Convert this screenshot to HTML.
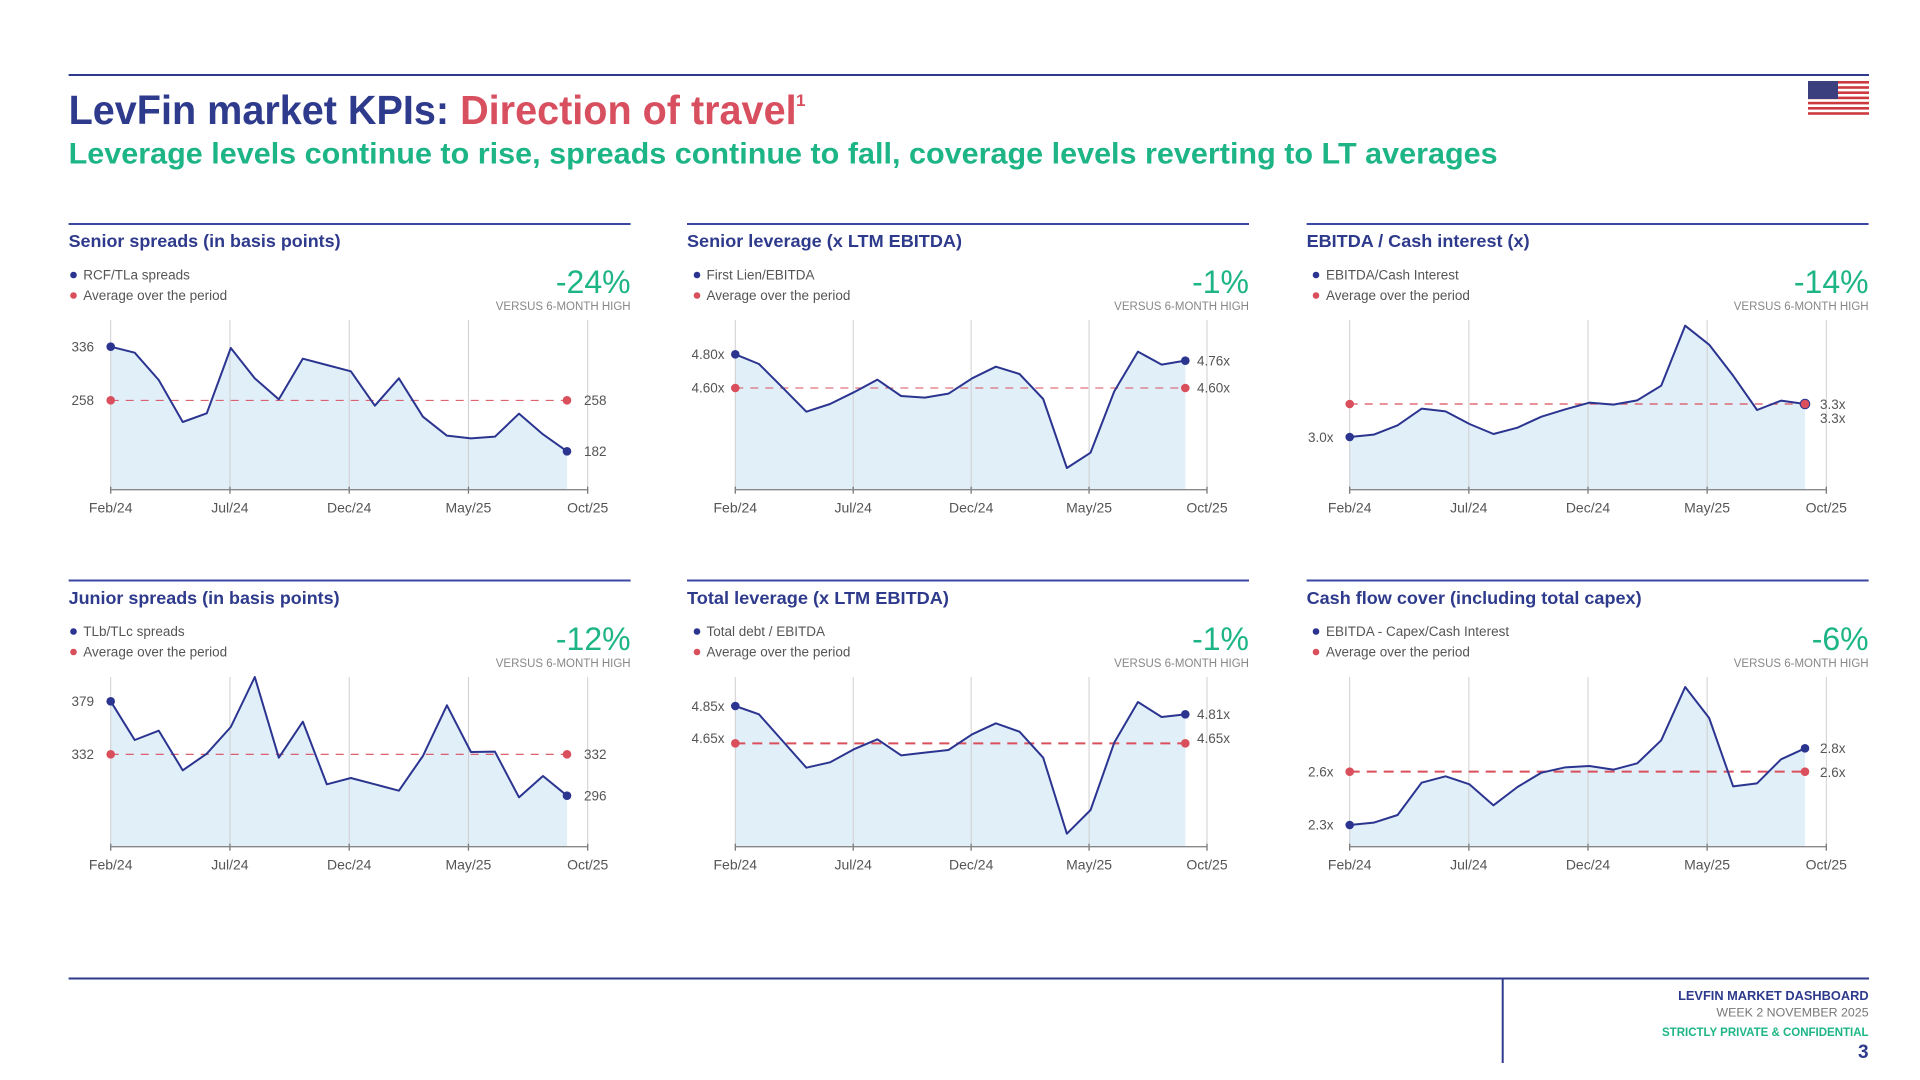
<!DOCTYPE html>
<html><head><meta charset="utf-8"><style>
html,body{margin:0;padding:0;background:#fff;}
svg{display:block;font-family:"Liberation Sans",Arial,sans-serif;}
</style></head><body>
<svg id="s" width="1920" height="1080" viewBox="0 0 1920 1080" xmlns="http://www.w3.org/2000/svg">
<rect width="1920" height="1080" fill="#fff"/>
<line x1="68.6" y1="75" x2="1869" y2="75" stroke="#2e3a8c" stroke-width="2"/>
<g>
<rect x="1808" y="81" width="61" height="34" fill="#fff"/>
<g fill="#cc3a3f">
<rect x="1808" y="81" width="61" height="2.6"/><rect x="1808" y="86.2" width="61" height="2.6"/><rect x="1808" y="91.4" width="61" height="2.6"/><rect x="1808" y="96.6" width="61" height="2.6"/><rect x="1808" y="101.8" width="61" height="2.6"/><rect x="1808" y="107" width="61" height="2.6"/><rect x="1808" y="112.2" width="61" height="2.6"/>
</g>
<rect x="1808" y="81" width="30" height="18" fill="#3c3f7e"/>
</g>
<text x="68.6" y="124" font-size="41" font-weight="bold" textLength="728" lengthAdjust="spacingAndGlyphs"><tspan fill="#2e3a8c">LevFin market KPIs: </tspan><tspan fill="#d84f5f">Direction of travel</tspan></text>
<text x="796" y="106" font-size="17" font-weight="bold" fill="#d84f5f">1</text>
<text x="68.6" y="163.3" font-size="30" font-weight="bold" fill="#1db586" textLength="1429" lengthAdjust="spacingAndGlyphs">Leverage levels continue to rise, spreads continue to fall, coverage levels reverting to LT averages</text>

<g id="charts"></g>

<g font-size="17.5" font-weight="bold" fill="#2e3a8c">
<text x="68.6" y="247" textLength="272" lengthAdjust="spacingAndGlyphs">Senior spreads (in basis points)</text>
<text x="687" y="247" textLength="275" lengthAdjust="spacingAndGlyphs">Senior leverage (x LTM EBITDA)</text>
<text x="1306.6" y="247" textLength="223" lengthAdjust="spacingAndGlyphs">EBITDA / Cash interest (x)</text>
<text x="68.6" y="604" textLength="271" lengthAdjust="spacingAndGlyphs">Junior spreads (in basis points)</text>
<text x="687" y="604" textLength="262" lengthAdjust="spacingAndGlyphs">Total leverage (x LTM EBITDA)</text>
<text x="1306.6" y="604" textLength="335" lengthAdjust="spacingAndGlyphs">Cash flow cover (including total capex)</text>
</g>
<g stroke="#3b47a0" stroke-width="2">
<line x1="68.6" y1="224" x2="630.6" y2="224"/><line x1="687" y1="224" x2="1249" y2="224"/><line x1="1306.6" y1="224" x2="1868.6" y2="224"/>
<line x1="68.6" y1="580.5" x2="630.6" y2="580.5"/><line x1="687" y1="580.5" x2="1249" y2="580.5"/><line x1="1306.6" y1="580.5" x2="1868.6" y2="580.5"/>
</g>
<g font-size="13.5" fill="#555">
<text x="83.3" y="279.5">RCF/TLa spreads</text><text x="83.3" y="300">Average over the period</text>
<text x="706.5" y="279.5">First Lien/EBITDA</text><text x="706.5" y="300">Average over the period</text>
<text x="1326" y="279.5">EBITDA/Cash Interest</text><text x="1326" y="300">Average over the period</text>
<text x="83.3" y="636">TLb/TLc spreads</text><text x="83.3" y="656.5">Average over the period</text>
<text x="706.5" y="636">Total debt / EBITDA</text><text x="706.5" y="656.5">Average over the period</text>
<text x="1326" y="636">EBITDA - Capex/Cash Interest</text><text x="1326" y="656.5">Average over the period</text>
</g>
<g>
<circle cx="73.5" cy="275" r="3.3" fill="#2b3590"/><circle cx="73.5" cy="295.5" r="3.3" fill="#d94f5c"/>
<circle cx="697" cy="275" r="3.3" fill="#2b3590"/><circle cx="697" cy="295.5" r="3.3" fill="#d94f5c"/>
<circle cx="1316" cy="275" r="3.3" fill="#2b3590"/><circle cx="1316" cy="295.5" r="3.3" fill="#d94f5c"/>
<circle cx="73.5" cy="631.5" r="3.3" fill="#2b3590"/><circle cx="73.5" cy="652" r="3.3" fill="#d94f5c"/>
<circle cx="697" cy="631.5" r="3.3" fill="#2b3590"/><circle cx="697" cy="652" r="3.3" fill="#d94f5c"/>
<circle cx="1316" cy="631.5" r="3.3" fill="#2b3590"/><circle cx="1316" cy="652" r="3.3" fill="#d94f5c"/>
</g>
<g font-size="32" fill="#1db586" text-anchor="end">
<text x="630.6" y="293">-24%</text><text x="1249" y="293">-1%</text><text x="1868.6" y="293">-14%</text>
<text x="630.6" y="650">-12%</text><text x="1249" y="650">-1%</text><text x="1868.6" y="650">-6%</text>
</g>
<g font-size="11.5" fill="#888" text-anchor="end">
<text x="630.6" y="310">VERSUS 6-MONTH HIGH</text><text x="1249" y="310">VERSUS 6-MONTH HIGH</text><text x="1868.6" y="310">VERSUS 6-MONTH HIGH</text>
<text x="630.6" y="667">VERSUS 6-MONTH HIGH</text><text x="1249" y="667">VERSUS 6-MONTH HIGH</text><text x="1868.6" y="667">VERSUS 6-MONTH HIGH</text>
</g>
<g font-size="14" fill="#555" text-anchor="middle">
<text x="110.7" y="512.3">Feb/24</text><text x="229.9" y="512.3">Jul/24</text><text x="349.2" y="512.3">Dec/24</text><text x="468.4" y="512.3">May/25</text><text x="587.7" y="512.3">Oct/25</text>
<text x="735.3" y="512.3">Feb/24</text><text x="853.2" y="512.3">Jul/24</text><text x="971.2" y="512.3">Dec/24</text><text x="1089.1" y="512.3">May/25</text><text x="1207" y="512.3">Oct/25</text>
<text x="1349.7" y="512.3">Feb/24</text><text x="1468.8" y="512.3">Jul/24</text><text x="1588" y="512.3">Dec/24</text><text x="1707.1" y="512.3">May/25</text><text x="1826.3" y="512.3">Oct/25</text>
<text x="110.7" y="869.3">Feb/24</text><text x="229.9" y="869.3">Jul/24</text><text x="349.2" y="869.3">Dec/24</text><text x="468.4" y="869.3">May/25</text><text x="587.7" y="869.3">Oct/25</text>
<text x="735.3" y="869.3">Feb/24</text><text x="853.2" y="869.3">Jul/24</text><text x="971.2" y="869.3">Dec/24</text><text x="1089.1" y="869.3">May/25</text><text x="1207" y="869.3">Oct/25</text>
<text x="1349.7" y="869.3">Feb/24</text><text x="1468.8" y="869.3">Jul/24</text><text x="1588" y="869.3">Dec/24</text><text x="1707.1" y="869.3">May/25</text><text x="1826.3" y="869.3">Oct/25</text>
</g>
<g font-size="13.5" fill="#555" text-anchor="end">
<text x="94" y="351.5">336</text><text x="94" y="405">258</text>
<text x="724.5" y="359">4.80x</text><text x="724.5" y="392.5">4.60x</text>
<text x="1333.5" y="442">3.0x</text>
<text x="94" y="706">379</text><text x="94" y="759">332</text>
<text x="724.5" y="711">4.85x</text><text x="724.5" y="743">4.65x</text>
<text x="1333.5" y="776.5">2.6x</text><text x="1333.5" y="829.5">2.3x</text>
</g>
<g font-size="13.5" fill="#555">
<text x="584" y="405">258</text><text x="584" y="456">182</text>
<text x="1197" y="365.5">4.76x</text><text x="1197" y="392.5">4.60x</text>
<text x="1820" y="409">3.3x</text><text x="1820" y="423">3.3x</text>
<text x="584" y="759">332</text><text x="584" y="800.5">296</text>
<text x="1197" y="719">4.81x</text><text x="1197" y="743">4.65x</text>
<text x="1820" y="753">2.8x</text><text x="1820" y="777">2.6x</text>
</g>
<line x1="68.6" y1="978.5" x2="1869" y2="978.5" stroke="#2e3a8c" stroke-width="2"/>
<line x1="1502.7" y1="978.5" x2="1502.7" y2="1063" stroke="#2e3a8c" stroke-width="2"/>
<g text-anchor="end">
<text x="1868.6" y="1000" font-size="12.8" font-weight="bold" fill="#2e3a8c">LEVFIN MARKET DASHBOARD</text>
<text x="1868.6" y="1016.7" font-size="12.4" fill="#777">WEEK 2 NOVEMBER 2025</text>
<text x="1868.6" y="1036" font-size="11.5" font-weight="bold" fill="#1db586">STRICTLY PRIVATE &amp; CONFIDENTIAL</text>
<text x="1868.6" y="1058" font-size="19" font-weight="bold" fill="#2e3a8c">3</text>
</g>
</svg>
<script>
var C=[
{x0:110.7,st:23.85,xl:567,yo:210,base:489.7,top:320,avg:571,dw:1,z:[410,428,510,636,610,414,505,568,446,465,484,587,505,620,677,685,680,611,673,724],last:'b'},
{x0:735.3,st:23.585,xl:1185.3,yo:314,base:489.7,top:320,avg:222,dw:1,z:[121,150,221,293,270,235,197,246,251,239,193,158,180,255,462,416,232,113,152,140],last:'b'},
{x0:1349.7,st:23.83,xl:1805,yo:314,base:489.7,top:320,avg:270,dw:1.2,z:[369,362,334,284,292,330,360,341,308,286,266,272,259,215,35,92,185,288,260,270],last:'r'},
{x0:110.7,st:23.85,xl:567,yo:671,base:846.7,top:677,avg:250,dw:1.2,z:[91,207,179,298,248,168,18,260,152,340,321,340,359,255,103,243,242,379,315,374],last:'b'},
{x0:735.3,st:23.585,xl:1185.3,yo:671,base:846.7,top:677,avg:217,dw:2,z:[105,130,210,290,274,235,205,253,245,237,190,157,182,260,488,417,215,93,138,130],last:'b'},
{x0:1349.7,st:23.83,xl:1805,yo:671,base:846.7,top:677,avg:302,dw:2,z:[462,455,432,335,316,340,403,348,305,289,285,296,277,208,48,141,346,337,265,232],last:'b'}
];
var g=document.getElementById('charts'),h='';
C.forEach(function(c){
 var ds=(c.xl-c.x0)/19;
 var pts=c.z.map(function(z,i){return [c.x0+i*ds,c.yo+z/3];});
 var n=pts.length-1, ay=c.yo+c.avg/3;
 h+='<path d="M'+pts[0][0]+','+c.base+' L'+pts.map(function(p){return p[0]+','+p[1]}).join(' L')+' L'+pts[n][0]+','+c.base+' Z" fill="#e1eff9"/>';
 for(var k=0;k<=4;k++){var x=c.x0+k*5*c.st;h+='<line x1="'+x+'" y1="'+c.top+'" x2="'+x+'" y2="'+c.base+'" stroke="#cfcfcf" stroke-width="1"/>';
  h+='<line x1="'+x+'" y1="'+(c.base-3)+'" x2="'+x+'" y2="'+(c.base+4)+'" stroke="#777" stroke-width="1.3"/>';}
 h+='<line x1="'+c.x0+'" y1="'+c.base+'" x2="'+(c.x0+20*c.st)+'" y2="'+c.base+'" stroke="#888" stroke-width="1.3"/>';
 h+='<line x1="'+c.x0+'" y1="'+ay+'" x2="'+pts[n][0]+'" y2="'+ay+'" stroke="#d94f5c" stroke-width="'+c.dw+'" stroke-dasharray="'+(c.dw>1.5?'10 7':'8 7')+'"/>';
 h+='<polyline points="'+pts.map(function(p){return p[0]+','+p[1]}).join(' ')+'" fill="none" stroke="#2b3590" stroke-width="2" stroke-linejoin="round"/>';
 h+='<circle cx="'+c.x0+'" cy="'+ay+'" r="4.3" fill="#d94f5c"/>';
 h+='<circle cx="'+pts[n][0]+'" cy="'+ay+'" r="4.3" fill="#d94f5c"/>';
 h+='<circle cx="'+pts[0][0]+'" cy="'+pts[0][1]+'" r="4.3" fill="#2b3590"/>';
 if(c.last=='b')h+='<circle cx="'+pts[n][0]+'" cy="'+pts[n][1]+'" r="4.3" fill="#2b3590"/>';
 else h+='<circle cx="'+pts[n][0]+'" cy="'+pts[n][1]+'" r="4.8" fill="#d94f5c" stroke="#2b3590" stroke-width="1"/>';
});
g.innerHTML=h;
</script>
</body></html>
